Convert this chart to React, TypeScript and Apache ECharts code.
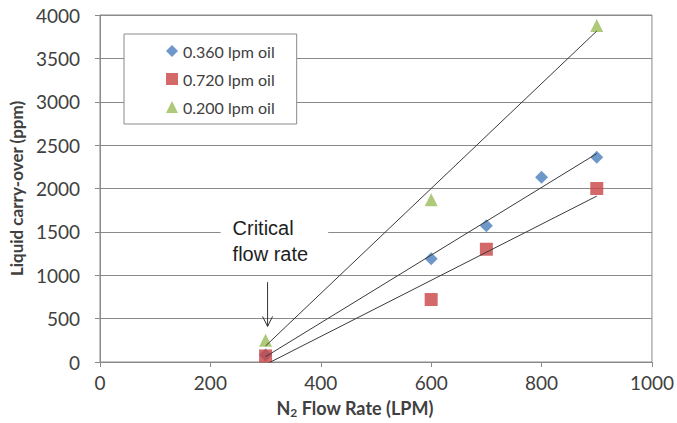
import React, { useEffect, useRef } from "react";
import * as echarts from "echarts";

const seriesNames = ["0.360 lpm oil", "0.720 lpm oil", "0.200 lpm oil"];
const flow360 = [300, 600, 700, 800, 900];
const oil360 = [80, 1190, 1570, 2130, 2360];
const flow720 = [300, 600, 700, 900];
const oil720 = [70, 720, 1300, 2000];
const flow200 = [300, 600, 900];
const oil200 = [250, 1870, 3880];
const xTicks = [0, 200, 400, 600, 800, 1000];
const yTicks = [0, 500, 1000, 1500, 2000, 2500, 3000, 3500, 4000];

const colors = ["#4A7EBB", "#C94444", "#9BBB59"];
const symbols = ["diamond", "rect", "triangle"];
const symbolSizes = [13, 13, 13];

function fit(xs: number[], ys: number[]) {
  const n = xs.length;
  const mx = xs.reduce((a, b) => a + b, 0) / n;
  const my = ys.reduce((a, b) => a + b, 0) / n;
  let sxx = 0, sxy = 0;
  for (let i = 0; i < n; i++) {
    sxx += (xs[i] - mx) * (xs[i] - mx);
    sxy += (xs[i] - mx) * (ys[i] - my);
  }
  const b = sxy / sxx;
  const a = my - b * mx;
  const x0 = Math.min(...xs), x1 = Math.max(...xs);
  return [[x0, a + b * x0], [x1, a + b * x1]];
}

export default function App() {
  const ref = useRef<HTMLDivElement>(null);
  useEffect(() => {
    document.body.style.margin = "0";
    if (!ref.current) return;
    const chart = echarts.init(ref.current, undefined, { renderer: "svg" });
    const xs = [flow360, flow720, flow200];
    const ys = [oil360, oil720, oil200];
    const gridColor = "#8a8a8a";
    const labelFont = "Lato, 'Open Sans', sans-serif";
    const scatter = seriesNames.map((name, i) => ({
      name,
      type: "scatter",
      symbol: symbols[i],
      symbolSize: symbolSizes[i],
      itemStyle: { color: colors[i] },
      data: xs[i].map((x, j) => [x, ys[i][j]]),
      z: 3,
    }));
    const trends = seriesNames.map((name, i) => ({
      name: name + " trend",
      type: "line",
      silent: true,
      symbol: "none",
      lineStyle: { color: "#3a3a3a", width: 1 },
      data: fit(xs[i], ys[i]),
      z: 4,
    }));
    chart.setOption({
      animation: false,
      backgroundColor: "#ffffff",
      grid: {
        left: 98,
        top: 15,
        right: 22,
        bottom: 60,
        show: true,
        borderColor: gridColor,
        borderWidth: 1,
        backgroundColor: "transparent",
      },
      legend: {
        orient: "vertical",
        left: 124,
        top: 34,
        backgroundColor: "#ffffff",
        borderColor: gridColor,
        borderWidth: 1,
        padding: [9, 22, 9, 42],
        itemWidth: 12,
        itemHeight: 12,
        itemGap: 12,
        textStyle: { fontSize: 16, color: "#404040", fontFamily: labelFont },
        data: seriesNames.map((n, i) => ({ name: n, icon: symbols[i] })),
      },
      xAxis: {
        type: "value",
        min: xTicks[0],
        max: xTicks[xTicks.length - 1],
        interval: 200,
        axisLine: { show: true, lineStyle: { color: gridColor } },
        axisTick: { show: true, length: 5, lineStyle: { color: gridColor } },
        splitLine: { show: false },
        axisLabel: { fontSize: 19, color: "#404040", fontFamily: labelFont, margin: 11, formatter: (v: number) => String(v) },
        name: "{a|N}{s|2}{a| Flow Rate (LPM)}",
        nameLocation: "middle",
        nameGap: 36,
        nameTextStyle: {
          padding: [0, 42, 0, 0],
          rich: {
            a: { fontSize: 18, fontWeight: "bold", color: "#404040", fontFamily: labelFont },
            s: { fontSize: 12, fontWeight: "bold", color: "#404040", fontFamily: labelFont, padding: [8, 0, 0, 0] },
          },
        },
      },
      yAxis: {
        type: "value",
        min: yTicks[0],
        max: yTicks[yTicks.length - 1],
        interval: 500,
        axisLine: { show: true, lineStyle: { color: gridColor } },
        axisTick: { show: true, length: 5, lineStyle: { color: gridColor } },
        splitLine: { show: true, lineStyle: { color: gridColor, width: 1 } },
        axisLabel: { fontSize: 19, color: "#404040", fontFamily: labelFont, margin: 20, formatter: (v: number) => String(v) },
        name: "Liquid carry-over (ppm)",
        nameLocation: "middle",
        nameGap: 72,
        nameTextStyle: { fontSize: 17, fontWeight: "bold", color: "#404040", fontFamily: labelFont },
      },
      series: [...scatter, ...trends],
    });

    const top = chart.convertToPixel({ gridIndex: 0 } as any, [300, 920]) as number[];
    const bot = chart.convertToPixel({ gridIndex: 0 } as any, [300, 410]) as number[];
    const txt = chart.convertToPixel({ gridIndex: 0 } as any, [300, 1400]) as number[];
    chart.setOption({
      graphic: [
        {
          type: "text",
          x: txt[0] - 45,
          y: txt[1],
          z: 10,
          style: {
            text: "Critical\nflow rate",
            font: "20px 'Liberation Sans', Arial, sans-serif",
            fill: "#1e1e1e",
            lineHeight: 26,
            verticalAlign: "middle",
            align: "left",
            backgroundColor: "#ffffff",
            padding: [2, 20, 2, 12],
          },
        },
        {
          type: "line",
          z: 10,
          shape: { x1: top[0] + 2, y1: top[1], x2: bot[0] + 2, y2: bot[1] },
          style: { stroke: "#333", lineWidth: 1 },
        },
        {
          type: "polyline",
          z: 10,
          shape: {
            points: [
              [bot[0] - 3, bot[1] - 10],
              [bot[0] + 2, bot[1]],
              [bot[0] + 7, bot[1] - 10],
            ],
          },
          style: { stroke: "#333", lineWidth: 1, fill: "none" },
        },
      ],
    });
    return () => chart.dispose();
  }, []);
  return <div ref={ref} style={{ width: 677, height: 423 }} />;
}
